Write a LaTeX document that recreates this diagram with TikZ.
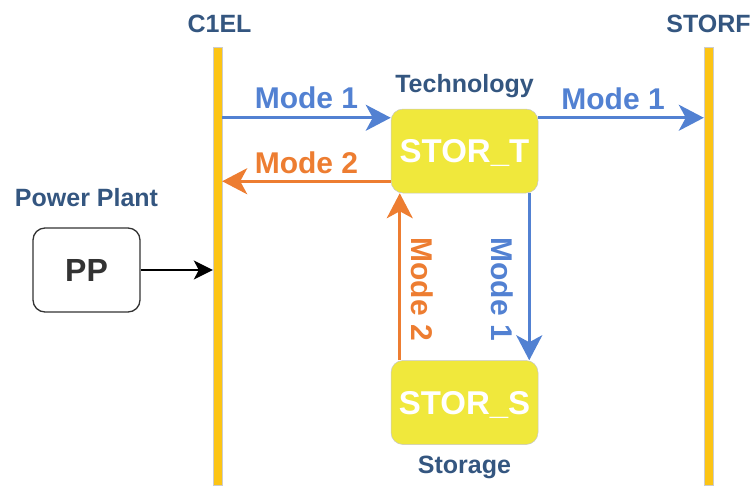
\documentclass[tikz,border=0pt]{standalone}
\usepackage{fontspec}
\setmainfont{Liberation Sans}
\usetikzlibrary{arrows.meta, positioning}

\definecolor{flowblue}{RGB}{82,129,210}
\definecolor{flowcoral}{RGB}{237,125,49}
\definecolor{busyellow}{RGB}{252,196,20}
\definecolor{techyellow}{RGB}{240,232,60}
\definecolor{labelnavy}{RGB}{52,86,128}
\definecolor{ppgrey}{RGB}{51,51,51}

\begin{document}
\begin{tikzpicture}[
    x=1pt, y=-1pt,
    bus/.style={rectangle, fill=busyellow, draw=gray!40, line width=0.4pt, minimum width=9pt, minimum height=438pt, inner sep=0pt},
    tech/.style={rectangle, rounded corners=12pt, fill=techyellow, draw=gray!45, line width=0.5pt, minimum width=147pt, minimum height=84pt, text=white, font=\fontsize{33}{36}\selectfont\bfseries, text depth=0pt},
    plant/.style={rectangle, rounded corners=12pt, draw=ppgrey, line width=1.3pt, minimum width=107pt, minimum height=84pt, text=ppgrey, font=\fontsize{32}{36}\selectfont\bfseries, text depth=0pt},
    caption/.style={inner sep=0pt, text=labelnavy, font=\fontsize{25}{28}\selectfont\bfseries},
    mode/.style={inner sep=0pt, font=\fontsize{30}{34}\selectfont\bfseries},
    flowone/.style={-{Stealth[length=25pt, width=26pt, inset=7pt]}, line width=3pt, flowblue},
    flowtwo/.style={-{Stealth[length=25pt, width=26pt, inset=7pt]}, line width=3pt, flowcoral},
    feed/.style={-{Stealth[length=19pt, width=19pt, inset=5pt]}, line width=1.5pt, black}
]
\useasboundingbox (0,0) rectangle (752,485);

% Buses
\node[bus] (c1el) at (217.5,266) {};
\node[bus] (storf) at (708.5,266) {};
\node[caption, above=14pt of c1el, xshift=2pt] (c1ellbl) {C1EL};
\node[caption, above=14pt of storf] (storflbl) {STORF};

% Boxes
\node[tech] (stort) at (464.5,151) {STOR\_T};
\node[tech] (stors) at (464.5,402.5) {STOR\_S};
\node[plant] (pp) at (86.5,270) {PP};

% Labels
\node[caption, above=11pt of stort] (techlbl) {Technology};
\node[caption, below=11pt of stors] (storlbl) {Storage};
\node[caption, above=20pt of pp] (pplbl) {Power Plant};

% Attachment points
\coordinate (inone) at ([yshift=-9pt]stort.north west);
\coordinate (outtwo) at ([yshift=12pt]stort.south west);
\coordinate (outone) at ([yshift=-9pt]stort.north east);
\coordinate (down) at ([xshift=-9pt]stort.south east);
\coordinate (up) at ([xshift=9pt]stors.north west);

% Arrows
\draw[flowone] (inone -| c1el.east) -- (inone) node[mode, midway, above=7pt, text=flowblue] {Mode 1};
\draw[flowtwo] (outtwo) -- (outtwo -| c1el.east) node[mode, midway, above=6pt, text=flowcoral] {Mode 2};
\draw[flowone] (outone) -- (outone -| storf.west) node[mode, midway, above=6pt, xshift=-8pt, text=flowblue] {Mode 1};
\draw[flowone] (down) -- (down |- stors.north) node[mode, pos=.575, xshift=-27pt, rotate=-90, text=flowblue] {Mode 1};
\draw[flowtwo] (up) -- (up |- stort.south) node[mode, pos=.425, xshift=22pt, rotate=-90, text=flowcoral] {Mode 2};
\draw[feed] (pp.east) -- (pp.east -| c1el.west);

\end{tikzpicture}
\end{document}
